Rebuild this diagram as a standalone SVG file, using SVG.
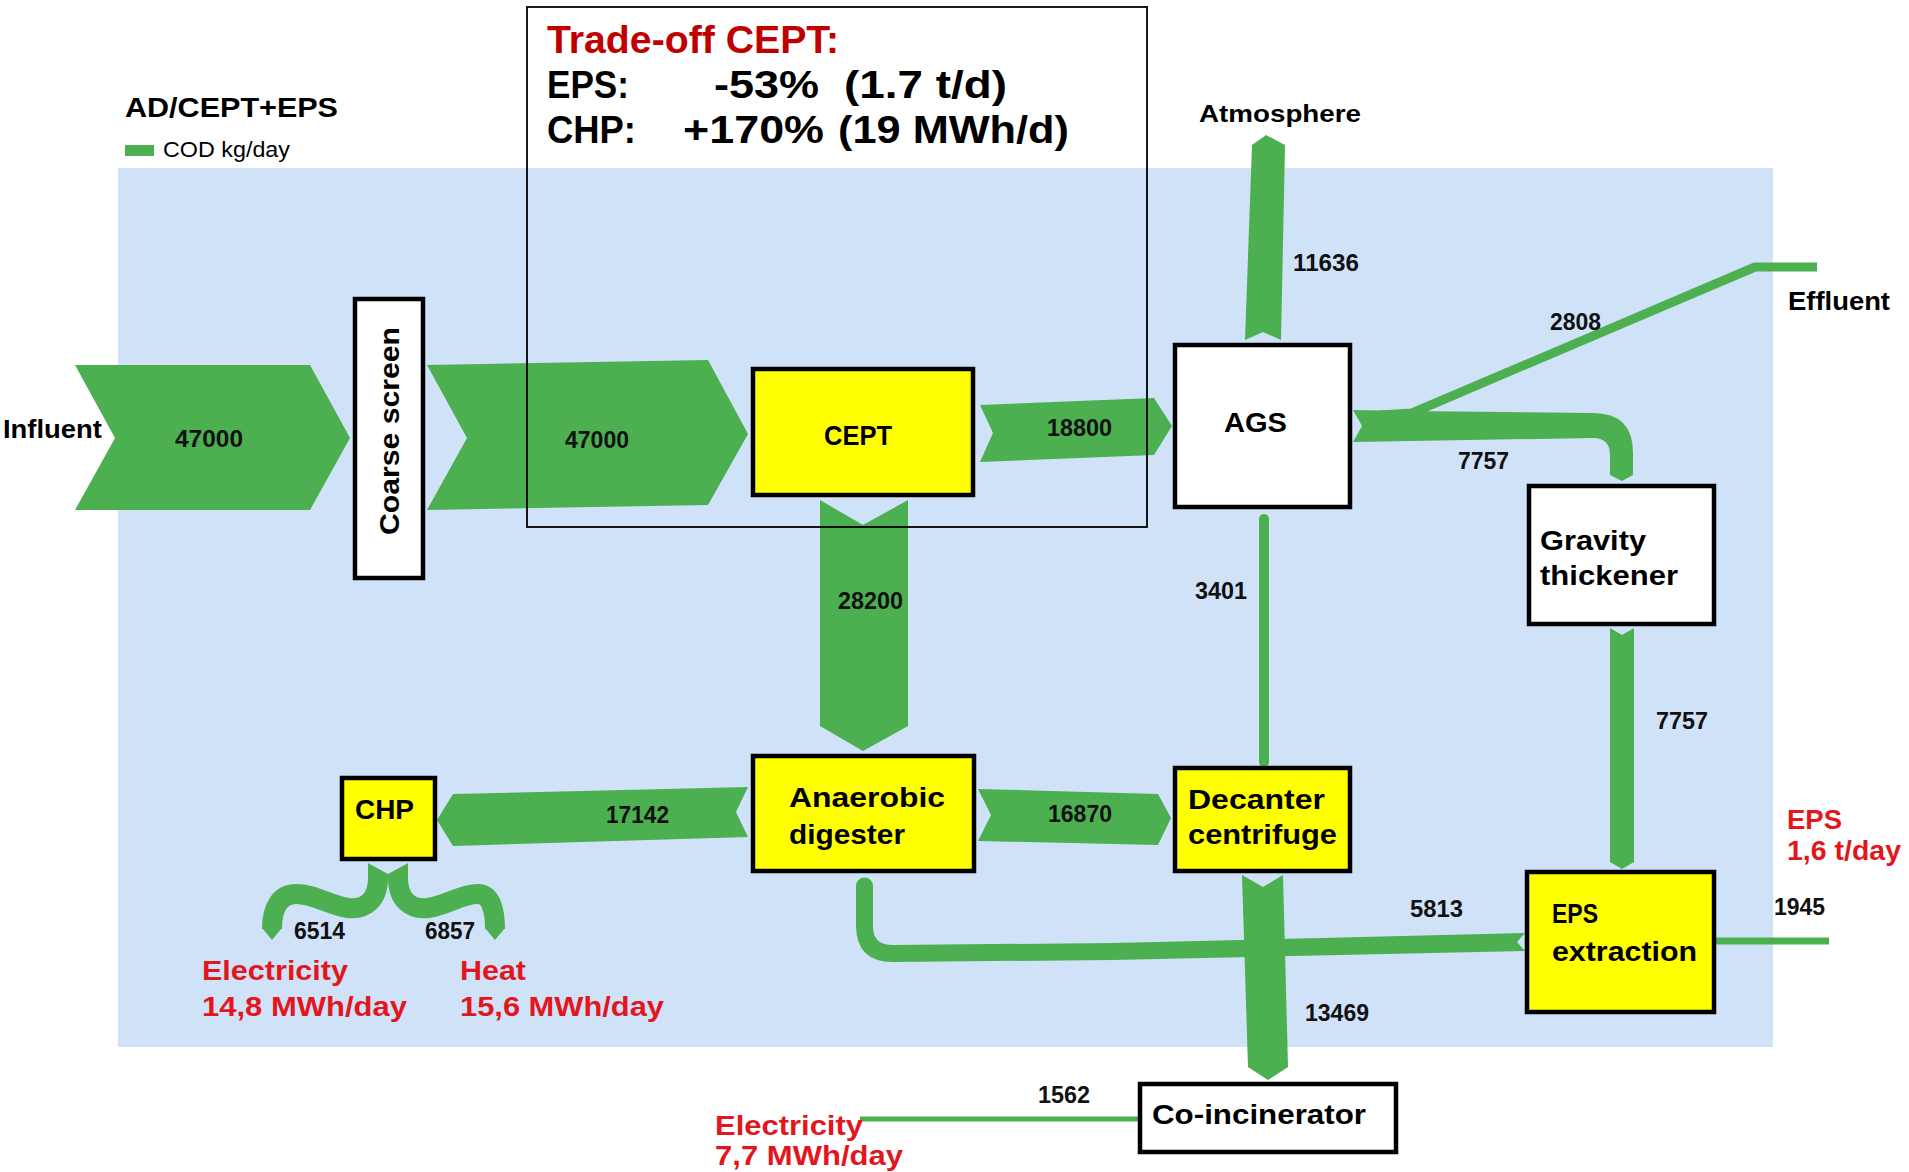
<svg xmlns="http://www.w3.org/2000/svg" width="1909" height="1172" viewBox="0 0 1909 1172">
<style>
  .flow { fill: #4caf50; }
  .ln { fill: none; stroke: #4caf50; }
  .box { stroke: #000; stroke-width: 4.5; }
  .yel { fill: #ffff00; }
  .wht { fill: #ffffff; }
  text { font-family: "Liberation Sans", Arial, sans-serif; font-weight: bold; fill: #000; }
  .lbl { font-size: 28px; }
  .num { font-size: 23px; fill: #111; }
  .red { font-size: 28px; fill: #e3161e; }
  .big { font-size: 39px; }
</style>
<rect x="0" y="0" width="1909" height="1172" fill="#ffffff"/>
<rect x="118" y="168" width="1655" height="879" fill="#cfe2f8"/>

<!-- legend / title -->
<text x="125" y="117" font-size="28" textLength="213" lengthAdjust="spacingAndGlyphs">AD/CEPT+EPS</text>
<rect x="125" y="145" width="29" height="11" fill="#4caf50"/>
<text x="163" y="157" font-size="22" style="font-weight:normal" fill="#333" textLength="127" lengthAdjust="spacingAndGlyphs">COD kg/day</text>

<g id="connectors">
  <polygon class="flow" points="75,365 310,365 350,438 310,510 75,510 115,438"/>
  <polygon class="flow" points="427,365 708,360 748,434 708,505 427,510 467,438"/>
  <polygon class="flow" points="980,405 1154,398 1172,426 1154,455 980,462 993,433"/>
  <polygon class="flow" points="820,500 863,525 908,500 908,726 863,751 820,726"/>
  <polygon class="flow" points="748,787 736,812 748,837 453,846 437,820 453,794"/>
  <polygon class="flow" points="978,789 1158,794 1171,818 1158,845 978,841 991,815"/>
  <polygon class="flow" points="1245,340 1263,332 1281,340 1285,145 1266,135 1252,145"/>
  <polyline class="ln" stroke-width="9" stroke-linejoin="round" points="1380,415 1412,413 1755,267 1817,267"/>
  <path class="flow" d="M1353,410 L1410,411 L1593,413 Q1633,413 1633,453 L1633,475 L1622,481 L1610,475 L1610,455 Q1610,438 1593,438 L1353,442 L1362,426 Z"/>
  <line class="ln" stroke-width="10" stroke-linecap="round" x1="1264" y1="519" x2="1264" y2="762"/>
  <polygon class="flow" points="1610,628 1622,635 1634,628 1634,862 1622,869 1610,862"/>
  <path class="flow" d="M856,886 A8.5,8.5 0 0 1 873,886 L873,927 Q873,945 893,945 L1113,943 L1525,933 L1517,942 L1525,951 L1113,960 L893,962 Q856,962 856,925 Z"/>
  <polygon class="flow" points="1242,875 1263,887 1283,875 1288,1067 1268,1080 1248,1067"/>
  <line class="ln" stroke-width="7" x1="1714" y1="941" x2="1829" y2="941"/>
  <line class="ln" stroke-width="5" x1="860" y1="1119" x2="1140" y2="1119"/>
  <path class="ln" stroke-width="20" d="M378,862 L378,878 C378,900 365,910 348,908 C328,905 315,894 296,894 C280,894 272,908 272,929"/>
  <polygon class="flow" points="262,928 282,928 272,940"/>
  <path class="ln" stroke-width="20" d="M398,862 L398,878 C398,900 411,910 428,908 C448,905 461,894 478,894 C490,894 495,908 495,929"/>
  <polygon class="flow" points="485,928 505,928 495,940"/>
  <polygon fill="#cfe2f8" points="366,862 388,874 410,862"/>
</g>

<g id="tradeoff">
  <rect x="527" y="7" width="620" height="520" fill="none" stroke="#000" stroke-width="1.8"/>
  <text x="547" y="53" class="big" style="fill:#c00000" textLength="292" lengthAdjust="spacingAndGlyphs">Trade-off CEPT:</text>
  <text x="547" y="98" class="big" textLength="82" lengthAdjust="spacingAndGlyphs">EPS:</text>
  <text x="714" y="98" class="big" textLength="105" lengthAdjust="spacingAndGlyphs">-53%</text>
  <text x="844" y="98" class="big" textLength="163" lengthAdjust="spacingAndGlyphs">(1.7 t/d)</text>
  <text x="547" y="143" class="big" textLength="89" lengthAdjust="spacingAndGlyphs">CHP:</text>
  <text x="683" y="143" class="big" textLength="141" lengthAdjust="spacingAndGlyphs">+170%</text>
  <text x="838" y="143" class="big" textLength="231" lengthAdjust="spacingAndGlyphs">(19 MWh/d)</text>
</g>

<g id="node-coarse-screen">
  <rect class="box wht" x="355" y="299" width="68" height="279"/>
  <text class="lbl" font-size="29" transform="translate(399,431) rotate(-90)" text-anchor="middle" textLength="208" lengthAdjust="spacingAndGlyphs">Coarse screen</text>
</g>
<g id="node-cept">
  <rect class="box yel" x="753" y="369" width="220" height="126"/>
  <text class="lbl" font-size="29" x="824" y="445" textLength="68" lengthAdjust="spacingAndGlyphs">CEPT</text>
</g>
<g id="node-ags">
  <rect class="box wht" x="1175" y="345" width="175" height="162"/>
  <text class="lbl" x="1224" y="432" textLength="63" lengthAdjust="spacingAndGlyphs">AGS</text>
</g>
<g id="node-gravity">
  <rect class="box wht" x="1529" y="486" width="185" height="138"/>
  <text class="lbl" x="1540" y="550" textLength="106" lengthAdjust="spacingAndGlyphs">Gravity</text>
  <text class="lbl" x="1540" y="585" textLength="138" lengthAdjust="spacingAndGlyphs">thickener</text>
</g>
<g id="node-ad">
  <rect class="box yel" x="753" y="756" width="221" height="115"/>
  <text class="lbl" x="789" y="807" textLength="156" lengthAdjust="spacingAndGlyphs">Anaerobic</text>
  <text class="lbl" x="789" y="844" textLength="116" lengthAdjust="spacingAndGlyphs">digester</text>
</g>
<g id="node-decanter">
  <rect class="box yel" x="1175" y="768" width="175" height="103"/>
  <text class="lbl" x="1188" y="809" textLength="137" lengthAdjust="spacingAndGlyphs">Decanter</text>
  <text class="lbl" x="1188" y="844" textLength="149" lengthAdjust="spacingAndGlyphs">centrifuge</text>
</g>
<g id="node-eps">
  <rect class="box yel" x="1527" y="872" width="187" height="140"/>
  <text class="lbl" x="1552" y="923" textLength="46" lengthAdjust="spacingAndGlyphs">EPS</text>
  <text class="lbl" x="1552" y="961" textLength="145" lengthAdjust="spacingAndGlyphs">extraction</text>
</g>
<g id="node-chp">
  <rect class="box yel" x="342" y="778" width="93" height="81"/>
  <text class="lbl" x="355" y="819" textLength="59" lengthAdjust="spacingAndGlyphs">CHP</text>
</g>
<g id="node-coincinerator">
  <rect class="box wht" x="1140" y="1084" width="256" height="68"/>
  <text class="lbl" x="1152" y="1124" textLength="214" lengthAdjust="spacingAndGlyphs">Co-incinerator</text>
</g>

<g id="labels">
  <text x="3" y="438" font-size="25" textLength="99" lengthAdjust="spacingAndGlyphs">Influent</text>
  <text x="1199" y="122" font-size="24" textLength="162" lengthAdjust="spacingAndGlyphs">Atmosphere</text>
  <text x="1788" y="310" font-size="26" textLength="102" lengthAdjust="spacingAndGlyphs">Effluent</text>

  <text class="num" x="175" y="447" textLength="68" lengthAdjust="spacingAndGlyphs">47000</text>
  <text class="num" x="565" y="448" textLength="64" lengthAdjust="spacingAndGlyphs">47000</text>
  <text class="num" x="1047" y="436" textLength="65" lengthAdjust="spacingAndGlyphs">18800</text>
  <text class="num" x="1293" y="271" textLength="66" lengthAdjust="spacingAndGlyphs">11636</text>
  <text class="num" x="1550" y="330" textLength="51" lengthAdjust="spacingAndGlyphs">2808</text>
  <text class="num" x="1458" y="469" textLength="51" lengthAdjust="spacingAndGlyphs">7757</text>
  <text class="num" x="1195" y="599" textLength="52" lengthAdjust="spacingAndGlyphs">3401</text>
  <text class="num" x="838" y="609" textLength="65" lengthAdjust="spacingAndGlyphs">28200</text>
  <text class="num" x="606" y="823" textLength="63" lengthAdjust="spacingAndGlyphs">17142</text>
  <text class="num" x="1048" y="822" textLength="64" lengthAdjust="spacingAndGlyphs">16870</text>
  <text class="num" x="1656" y="729" textLength="52" lengthAdjust="spacingAndGlyphs">7757</text>
  <text class="num" x="1410" y="917" textLength="53" lengthAdjust="spacingAndGlyphs">5813</text>
  <text class="num" x="1774" y="915" textLength="51" lengthAdjust="spacingAndGlyphs">1945</text>
  <text class="num" x="1305" y="1021" textLength="64" lengthAdjust="spacingAndGlyphs">13469</text>
  <text class="num" x="1038" y="1103" textLength="52" lengthAdjust="spacingAndGlyphs">1562</text>
  <text class="num" x="294" y="939" textLength="51" lengthAdjust="spacingAndGlyphs">6514</text>
  <text class="num" x="425" y="939" textLength="50" lengthAdjust="spacingAndGlyphs">6857</text>

  <text class="red" x="202" y="980" textLength="146" lengthAdjust="spacingAndGlyphs">Electricity</text>
  <text class="red" x="202" y="1016" textLength="205" lengthAdjust="spacingAndGlyphs">14,8 MWh/day</text>
  <text class="red" x="460" y="980" textLength="66" lengthAdjust="spacingAndGlyphs">Heat</text>
  <text class="red" x="460" y="1016" textLength="204" lengthAdjust="spacingAndGlyphs">15,6 MWh/day</text>
  <text class="red" x="715" y="1135" textLength="148" lengthAdjust="spacingAndGlyphs">Electricity</text>
  <text class="red" x="715" y="1165" textLength="188" lengthAdjust="spacingAndGlyphs">7,7 MWh/day</text>
  <text class="red" x="1787" y="829" textLength="55" lengthAdjust="spacingAndGlyphs">EPS</text>
  <text class="red" x="1787" y="860" textLength="114" lengthAdjust="spacingAndGlyphs">1,6 t/day</text>
</g>
</svg>
